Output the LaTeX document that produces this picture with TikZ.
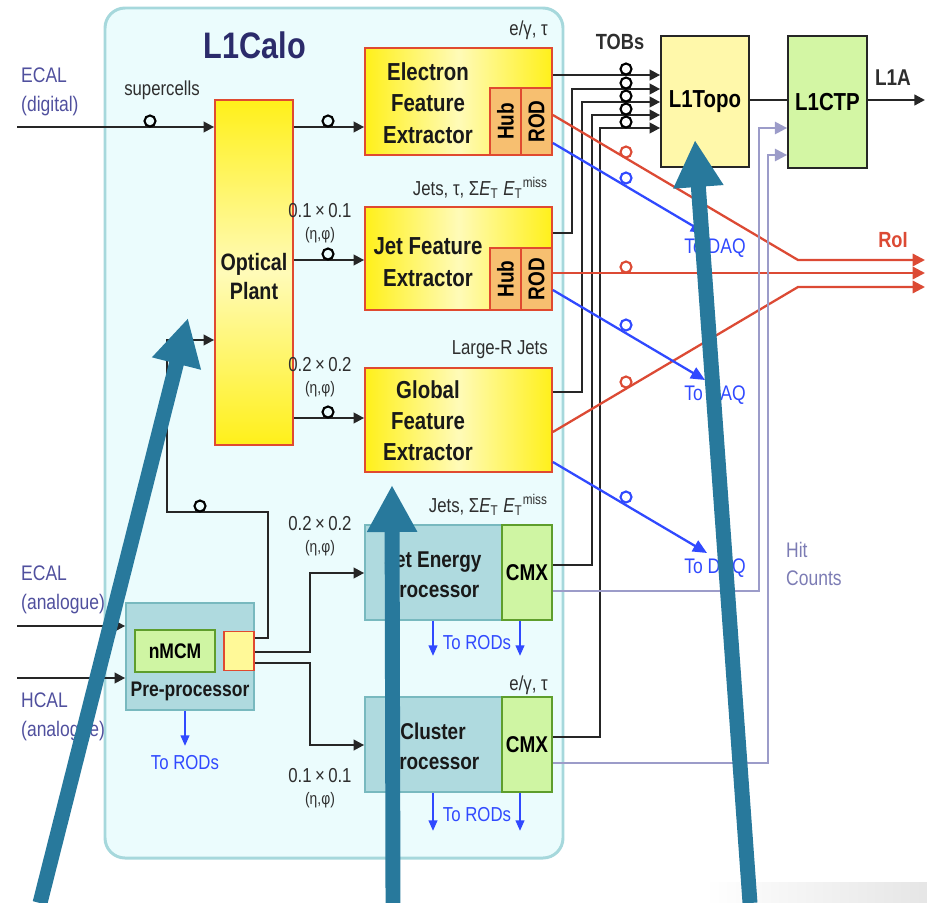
\documentclass[tikz,border=0pt]{standalone}
\usepackage{amsmath,amssymb}
\usepackage{fontspec}
\setmainfont{Liberation Sans}[FakeStretch=0.83]
\usetikzlibrary{positioning,shapes,arrows.meta}

\definecolor{calofill}{HTML}{EBFCFD}
\definecolor{caloedge}{HTML}{A6D8DC}
\definecolor{caloname}{HTML}{2B2B6B}
\definecolor{boxred}{HTML}{E04A30}
\definecolor{fexyel}{HTML}{FFF01A}
\definecolor{fexpale}{HTML}{FFFBB8}
\definecolor{hubor}{HTML}{F7BF70}
\definecolor{procfill}{HTML}{AFDADF}
\definecolor{procedge}{HTML}{78B9BF}
\definecolor{cmxfill}{HTML}{CFF5A3}
\definecolor{cmxedge}{HTML}{5E9E2C}
\definecolor{topofill}{HTML}{FFF8AA}
\definecolor{ctpfill}{HTML}{D3F6A4}
\definecolor{roired}{HTML}{DC4A34}
\definecolor{daqblue}{HTML}{3049FF}
\definecolor{hitlav}{HTML}{9C9CC9}
\definecolor{hittext}{HTML}{7C7CB4}
\definecolor{inblue}{HTML}{50509E}
\definecolor{annot}{HTML}{28799C}
\definecolor{labtext}{HTML}{2E2E2E}

\newcommand{\ET}{\textit{E}\textsubscript{T}}
\newcommand{\ETmiss}{\textit{E}\textsubscript{T}\textsuperscript{miss}}

\tikzset{
  calo/.style={draw=caloedge,line width=1.7pt,fill=calofill,rounded corners=0.4cm},
  fexbox/.style={draw=boxred,line width=1pt,left color=fexyel,right color=fexyel,middle color=fexpale,minimum width=3.74cm,inner sep=0pt},
  opbox/.style={draw=boxred,line width=1pt,top color=fexyel,bottom color=fexyel,middle color=fexpale,minimum width=1.56cm,minimum height=6.9cm,inner sep=0pt},
  hubbox/.style={draw=boxred,line width=1pt,fill=hubor,inner sep=0pt,minimum height=0.62cm,text=black,font=\bfseries\fontsize{13}{15}\selectfont},
  procbox/.style={draw=procedge,line width=1pt,fill=procfill,inner sep=0pt},
  cmxbox/.style={draw=cmxedge,line width=1pt,fill=cmxfill,inner sep=0pt,text=black,font=\bfseries\fontsize{13}{15}\selectfont},
  l1box/.style={draw=black!85,line width=1pt,inner sep=0pt,minimum height=2.63cm,text=black,font=\bfseries\fontsize{14}{17}\selectfont},
  boxtext/.style={align=center,text=black!90,font=\bfseries\fontsize{14}{18}\selectfont},
  smalltext/.style={text=labtext,font=\fontsize{11.5}{13}\selectfont},
  inlabel/.style={align=left,anchor=west,text=inblue,font=\fontsize{12}{16.5}\selectfont},
  gran/.style={align=center,text=labtext,font=\fontsize{11.5}{12.5}\selectfont},
  rodtext/.style={text=daqblue,font=\fontsize{11.5}{13}\selectfont},
  sig/.style={line width=1.3pt,draw=black!85},
  roi/.style={line width=1.3pt,draw=roired,-{Triangle[length=7pt,width=7pt]}},
  daq/.style={line width=1.3pt,draw=daqblue,-{Triangle[length=8pt,width=7pt]}},
  rodarrow/.style={line width=1pt,draw=daqblue,-{Triangle[length=6pt,width=5pt]}},
  hit/.style={line width=1.3pt,draw=hitlav,-{Triangle[length=7pt,width=7pt]}},
  ring/.style={line width=1.2pt},
  pointer/.style={line width=8.5pt,draw=annot,-{Triangle[length=0.94cm,width=0.94cm]}}
}

\begin{document}
\begin{tikzpicture}[x=0.02cm,y=-0.02cm,>={Triangle[length=6pt,width=6pt]}]
\useasboundingbox (0,0) rectangle (927,903);
\shade[left color=white,right color=black!10] (705,882) rectangle (927,903);
\draw[calo] (105,8) rectangle (563,858);
\node[font=\bfseries\fontsize{21}{24}\selectfont,text=caloname] (title) at (255,45) {L1Calo};

\node[opbox] (op) at (254,272.5) {};
\node[boxtext,font=\bfseries\fontsize{13.5}{16.5}\selectfont] (optxt) at (254,277) {Optical\\Plant};

\node[fexbox,minimum height=2.14cm] (efe) at (458.5,101.5) {};
\node[hubbox,rotate=90,minimum width=1.34cm] (efehub) at (505.5,121.5) {Hub};
\node[hubbox,rotate=90,minimum width=1.34cm] (eferod) at (536.5,121.5) {ROD};
\node[boxtext] (efetxt) at (428,103) {Electron\\Feature\\Extractor};

\node[fexbox,minimum height=2.06cm] (jfe) at (458.5,258.5) {};
\node[hubbox,rotate=90,minimum width=1.24cm] (jfehub) at (505.5,279) {Hub};
\node[hubbox,rotate=90,minimum width=1.24cm] (jferod) at (536.5,279) {ROD};
\node[boxtext] (jfetxt) at (428,262) {Jet Feature\\Extractor};

\node[fexbox,minimum height=2.08cm] (gfe) at (458.5,420) {};
\node[boxtext,font=\bfseries\fontsize{14}{17.6}\selectfont] (gfetxt) at (428,421) {Global\\Feature\\Extractor};

\node[procbox,minimum width=3.74cm,minimum height=1.9cm] (jep) at (458.5,572.5) {};
\node[cmxbox,minimum width=1cm,minimum height=1.9cm] (jepcmx) at (527,572.5) {CMX};
\node[boxtext,font=\bfseries\fontsize{13}{17}\selectfont] (jeptxt) at (433,575) {Jet Energy\\Processor};

\node[procbox,minimum width=3.74cm,minimum height=1.9cm] (cp) at (458.5,744.5) {};
\node[cmxbox,minimum width=1cm,minimum height=1.9cm] (cpcmx) at (527,744.5) {CMX};
\node[boxtext,font=\bfseries\fontsize{13}{17}\selectfont] (cptxt) at (433,746) {Cluster\\Processor};

\node[procbox,minimum width=2.56cm,minimum height=2.14cm] (pre) at (190,656.5) {};
\node[cmxbox,minimum width=1.6cm,minimum height=0.84cm,font=\bfseries\fontsize{12}{14}\selectfont] (nmcm) at (175,651) {nMCM};
\node[draw=boxred,line width=1pt,fill=fexpale!80!fexyel,minimum width=0.6cm,minimum height=0.78cm,inner sep=0pt] (sq) at (239,651) {};
\node[boxtext,font=\bfseries\fontsize{12}{14}\selectfont] (pretxt) at (190,691) {Pre-processor};

\node[l1box,fill=topofill,minimum width=1.76cm] (l1topo) at (705,101.5) {L1Topo};
\node[l1box,fill=ctpfill,minimum width=1.58cm] (l1ctp) at (827.5,102) {L1CTP};

\coordinate (ecaldig) at (17,127);
\coordinate (ecalana) at (17,626);
\coordinate (hcalana) at (17,678);
\coordinate (l1a) at (925,100);

\draw[sig,->] (ecaldig) -- (op.west |- ecaldig);
\draw[sig,->] (op.east |- 0,127) -- (efe.west |- 0,127);
\draw[sig,->] (op.east |- 0,260) -- (jfe.west |- 0,260);
\draw[sig,->] (op.east |- 0,418) -- (gfe.west |- 0,418);
\draw[sig,->] (ecalana) -- (pre.west |- ecalana);
\draw[sig,->] (hcalana) -- (pre.west |- hcalana);
\draw[sig,->] (sq.east |- 0,638) -| (268,512) -| (167,340) -- (op.west |- 0,340);
\draw[sig,->] (sq.east |- 0,652) -| (310,573) -- (jep.west |- 0,573);
\draw[sig,->] (sq.east |- 0,663) -| (310,745) -- (cp.west |- 0,745);
\foreach \x/\y in {150/127,328/127,328/260,328/418,200/512}
  \draw[ring] (\x,\y-6) circle[radius=0.11cm];

\draw[sig,->] (efe.east |- 0,75) -- (l1topo.west |- 0,75);
\draw[sig,->] (jfe.east |- 0,233) -| (572,89) -- (l1topo.west |- 0,89);
\draw[sig,->] (gfe.east |- 0,392) -| (582,102) -- (l1topo.west |- 0,102);
\draw[sig,->] (jepcmx.east |- 0,565) -| (592,115) -- (l1topo.west |- 0,115);
\draw[sig,->] (cpcmx.east |- 0,737) -| (600,128) -- (l1topo.west |- 0,128);
\foreach \y in {75,89,102,115,128}
  \draw[ring] (626,\y-6) circle[radius=0.11cm];
\draw[sig] (l1topo.east |- 0,100) -- (l1ctp.west |- 0,100);
\draw[sig,->] (l1ctp.east |- l1a) -- (l1a);

\draw[roi] (eferod.south |- 0,115) -- (798,260) -- (925,260);
\draw[roi] (jferod.south |- 0,273) -- (925,273);
\draw[roi] (gfe.east |- 0,432) -- (798,287) -- (925,287);
\foreach \y in {152,267,382}
  \draw[ring,roired] (626,\y) circle[radius=0.11cm];

\draw[daq] (eferod.south |- 0,143) -- (705,233);
\draw[daq] (jferod.south |- 0,290) -- (705,380);
\draw[daq] (gfe.east |- 0,462) -- (707,553);
\foreach \y in {178,325,497}
  \draw[ring,daqblue] (626,\y) circle[radius=0.11cm];

\draw[hit] (jepcmx.east |- 0,591) -| (759,128) -- (l1ctp.west |- 0,128);
\draw[hit] (cpcmx.east |- 0,763) -| (768,155) -- (l1ctp.west |- 0,155);

\draw[rodarrow] (jep.south -| 433,0) -- ++(0,35);
\draw[rodarrow] (jepcmx.south -| 520,0) -- ++(0,35);
\draw[rodarrow] (cp.south -| 433,0) -- ++(0,38);
\draw[rodarrow] (cpcmx.south -| 520,0) -- ++(0,38);
\draw[rodarrow] (pre.south -| 185,0) -- ++(0,35);

\node[smalltext] (supercells) at (162,90) {supercells};
\node[inlabel] (ecaldlab) at (15,92) {ECAL\\(digital)};
\node[inlabel] (ecalalab) at (15,590) {ECAL\\(analogue)};
\node[inlabel] (hcalalab) at (15,717) {HCAL\\(analogue)};
\node[gran] (gran1) at (320,223) {0.1\,×\,0.1\\{\fontsize{9.5}{10}\selectfont(η,φ)}};
\node[gran] (gran2) at (320,377) {0.2\,×\,0.2\\{\fontsize{9.5}{10}\selectfont(η,φ)}};
\node[gran] (gran3) at (320,536) {0.2\,×\,0.2\\{\fontsize{9.5}{10}\selectfont(η,φ)}};
\node[gran] (gran4) at (320,788) {0.1\,×\,0.1\\{\fontsize{9.5}{10}\selectfont(η,φ)}};
\node[smalltext,anchor=east] (efeout) at (554,30) {e/γ, τ};
\node[smalltext,anchor=east] (jfeout) at (554,188) {Jets, τ, Σ\ET\ \ETmiss};
\node[smalltext,anchor=east] (gfeout) at (554,350) {Large-R Jets};
\node[smalltext,anchor=east] (jepout) at (554,505) {Jets, Σ\ET\ \ETmiss};
\node[smalltext,anchor=east] (cpout) at (554,685) {e/γ, τ};
\node[rodtext] (jeprods) at (477,643) {To RODs};
\node[rodtext] (cprods) at (477,815) {To RODs};
\node[rodtext] (prerods) at (185,763) {To RODs};
\node[smalltext,font=\bfseries\fontsize{12.5}{14}\selectfont] (tobs) at (620,42) {TOBs};
\node[smalltext,font=\bfseries\fontsize{13}{15}\selectfont] (l1alab) at (893,78) {L1A};
\node[text=roired,font=\bfseries\fontsize{12.5}{14}\selectfont] (roilab) at (893,240) {RoI};
\node[rodtext,font=\fontsize{12}{14}\selectfont] (daq1) at (715,248) {To DAQ};
\node[rodtext,font=\fontsize{12}{14}\selectfont] (daq2) at (715,395) {To DAQ};
\node[rodtext,font=\fontsize{12}{14}\selectfont] (daq3) at (715,568) {To DAQ};
\node[align=left,anchor=west,text=hittext,font=\fontsize{12}{16}\selectfont] (hitlab) at (780,564) {Hit\\Counts};

\coordinate (pa) at (40,903);
\coordinate (pb) at (393,903);
\coordinate (pc) at (750,903);
\draw[pointer] (pa) -- (188,318);
\draw[pointer] (pb) -- (392,485);
\draw[pointer] (pc) -- (695,140);
\end{tikzpicture}
\end{document}
